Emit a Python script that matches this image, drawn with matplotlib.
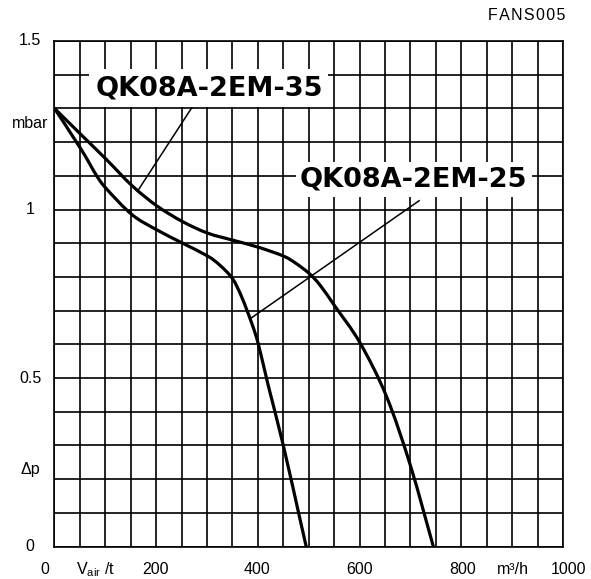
import matplotlib
matplotlib.use("Agg")
import matplotlib.pyplot as plt
import matplotlib.transforms as mtransforms
import matplotlib.patches as mpatches
import numpy as np
from matplotlib.path import Path

# ---- data ----
flow_25 = [0, 53, 83, 103, 153, 202, 252, 301, 325, 350, 368, 388, 401, 420, 450, 483, 495]
dp_25 = [1.30, 1.177, 1.10, 1.06, 0.984, 0.939, 0.90, 0.862, 0.835, 0.795, 0.741, 0.662, 0.60, 0.48, 0.30, 0.08, 0.0]

flow_35 = [0, 53, 103, 153, 202, 252, 301, 353, 401, 450, 475, 501, 522, 552, 601, 653, 700, 745]
dp_35 = [1.30, 1.221, 1.147, 1.07, 1.01, 0.964, 0.93, 0.908, 0.888, 0.862, 0.84, 0.81, 0.776, 0.712, 0.604, 0.445, 0.24, 0.0]

label_35 = "QK08A-2EM-35"
label_25 = "QK08A-2EM-25"
leader_35 = ([276, 164], [1.316, 1.056])
leader_25 = ([717, 384], [1.026, 0.675])

ytick_vals = [0, 0.23, 0.5, 1.0, 1.254, 1.5]
ytick_labels = ["0", "Δp", "0.5", "1", "mbar", "1.5"]
xtick_vals = [-20, 80, 198, 398, 599, 802, 902, 1010]
xtick_labels = ["0", r"V$_\mathregular{air}$ /t", "200", "400", "600", "800", "m³/h", "1000"]

plt.rcParams['font.family'] = ['Liberation Sans', 'DejaVu Sans']


def smooth_path(xs, ys):
    """Catmull-Rom curve through the given points, as a Bezier path."""
    xs = np.asarray(xs, float)
    ys = np.asarray(ys, float)
    P = np.column_stack([xs, ys])
    n = len(P)
    verts = [P[0]]
    codes = [Path.MOVETO]
    for i in range(n - 1):
        p0 = P[i - 1] if i > 0 else P[i]
        p1 = P[i]
        p2 = P[i + 1]
        p3 = P[i + 2] if i + 2 < n else P[i + 1]
        c1 = p1 + (p2 - p0) / 6.0
        c2 = p2 - (p3 - p1) / 6.0
        verts += [c1, c2, p2]
        codes += [Path.CURVE4] * 3
    return Path(verts, codes)


fig = plt.figure(figsize=(5.91, 5.79), dpi=100)
ax = fig.add_axes([0.0922, 0.0561, 0.8604, 0.8731])
ax.set_xlim(0, 1000)
ax.set_ylim(0, 1.5)

for x in np.arange(0, 1001, 50):
    ax.axvline(x, color='black', lw=1.2, zorder=1)
for y in np.arange(0, 1.51, 0.1):
    ax.axhline(y, color='black', lw=1.2, zorder=1)
for s in ax.spines.values():
    s.set_linewidth(1.2)

ax.set_xticks([])
ax.set_yticks([])

for fx, fy in ((flow_25, dp_25), (flow_35, dp_35)):
    ax.add_patch(mpatches.PathPatch(smooth_path(fx, fy), facecolor='none',
                                    edgecolor='black', lw=2.3, zorder=3,
                                    capstyle='round', joinstyle='round'))
ax.plot(*leader_35, color='black', lw=1.1, zorder=3)
ax.plot(*leader_25, color='black', lw=1.1, zorder=3)

ax.text(80, 1.360, label_35, fontsize=19.5, fontweight='bold', family='DejaVu Sans',
        ha='left', va='center', zorder=5,
        bbox=dict(facecolor='white', edgecolor='none', pad=4))
ax.text(483, 1.089, label_25, fontsize=19.5, fontweight='bold', family='DejaVu Sans',
        ha='left', va='center', zorder=5,
        bbox=dict(facecolor='white', edgecolor='none', pad=3))

ytr = mtransforms.blended_transform_factory(fig.transFigure, ax.transData)
for v, lab in zip(ytick_vals, ytick_labels):
    ax.text(30 / 591, v, lab, transform=ytr, ha='center', va='center', fontsize=11.5)

xtr = mtransforms.blended_transform_factory(ax.transData, fig.transFigure)
for v, lab in zip(xtick_vals, xtick_labels):
    ax.text(v, 1 - 570 / 579, lab, transform=xtr, ha='center', va='center', fontsize=11.5,
            clip_on=False)

fig.text(565 / 591, 1 - 15 / 579, "F A N S 0 0 5".replace(" ", "\u200a"), ha='right',
         va='center', fontsize=11.5)

fig.savefig("out.png", dpi=100)
